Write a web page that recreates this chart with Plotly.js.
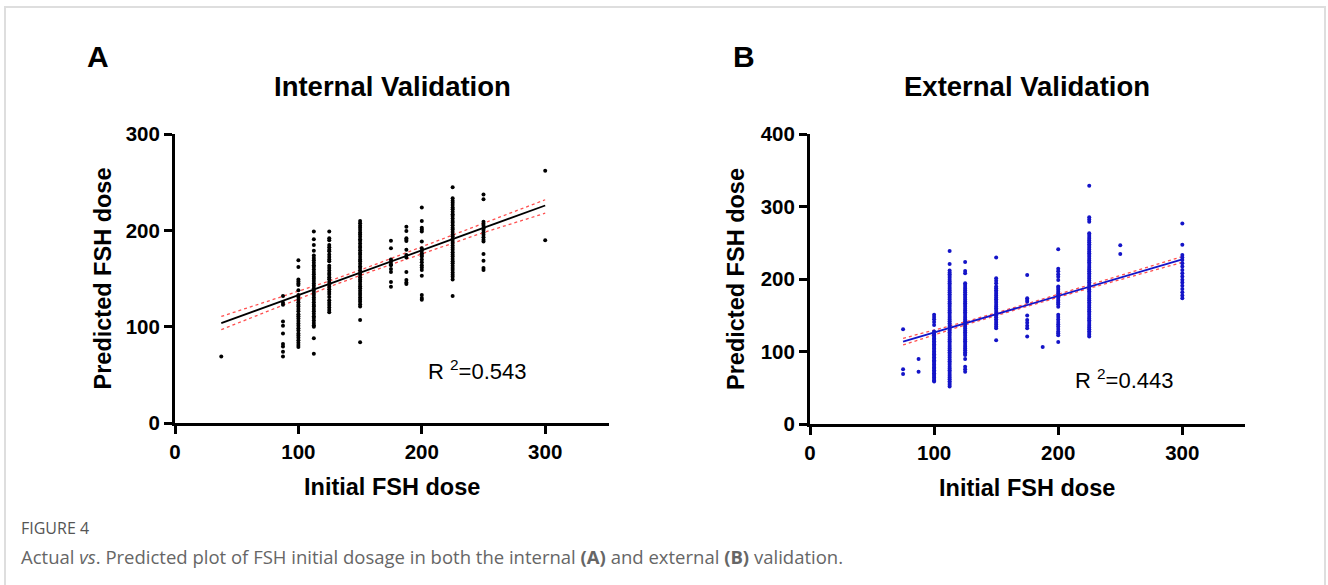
<!DOCTYPE html>
<html>
<head>
<meta charset="utf-8">
<script src="https://cdn.plot.ly/plotly-3.0.1.min.js"></script>
<style>
  html, body { margin: 0; padding: 0; background: #ffffff; }
  #frame { position: absolute; left: 4px; top: 6px; width: 1322px; height: 640px; border: 2px solid #dedede; box-sizing: border-box; }
  #chart { position: absolute; left: 0; top: 0; width: 1328px; height: 585px; }
</style>
</head>
<body>
<div id="frame"></div>
<div id="chart"></div>
<script>
// ---------- Panel A: internal validation ----------
const internalDoses = [37.5, 87.5, 100, 112.5, 125, 150, 175, 187.5, 200, 225, 250, 300];
const internalPredicted = [
  [69],
  [132, 125, 123, 105.5, 101, 93, 82, 79.5, 74, 69],
  [169, 162, 149, 147, 145, 143.5, 138, 133, 131, 128, 125.5, 123, 121, 118.5, 116, 113, 111, 108.5, 106, 103.5, 101, 98.5, 96, 93, 91, 88.5, 86, 83.5, 81, 79],
  [199, 191, 185, 179, 174, 171.5, 169, 166.5, 164, 162, 159.5, 157, 154.5, 152, 150, 147.5, 145, 142.5, 140, 137.5, 135, 133, 130.5, 128, 125.5, 123, 121, 118.5, 116, 113.5, 111, 109, 106.5, 104, 101.5, 100, 88, 72],
  [199, 192, 190, 185, 182.5, 180, 178.5, 175, 172.5, 170, 168, 163.5, 161, 158.5, 156, 154, 151.5, 149.5, 146.5, 144, 141.5, 139, 136.5, 134, 131, 127.5, 125, 122.5, 120, 117.5, 115],
  [210, 207.5, 205, 203, 200.5, 198, 196, 193.5, 191, 189, 186.5, 184, 182, 179.5, 177, 175, 172.5, 170, 168, 165.5, 163, 161, 158.5, 156, 154, 151.5, 149, 147, 144.5, 142, 140, 137.5, 135, 133, 130.5, 128, 126, 123.5, 121, 107, 84],
  [189.5, 181.5, 170, 167.5, 165, 164, 160, 157, 146.5, 141.5],
  [204, 199.5, 192, 190.5, 189, 180, 174.5, 172, 157, 148.5, 146, 144.5],
  [224, 210, 203, 201, 199, 188.5, 181.5, 179, 176.5, 174.5, 173, 170, 167, 164, 161.5, 159, 153, 133, 130, 128],
  [245, 233.5, 231, 229, 226.5, 224, 222, 219.5, 217, 215, 212.5, 210, 208, 205.5, 203, 201, 198.5, 196, 194, 191.5, 189, 187, 184.5, 182, 180, 177.5, 175, 173, 170.5, 168, 166, 163.5, 161, 159, 156.5, 154, 152, 149, 132],
  [237.5, 232.5, 209, 207, 205, 202.5, 200.5, 198, 195.5, 193, 190.5, 188.5, 175.5, 168.5, 161, 159],
  [262, 190]
];
const internalFitX = [37.5, 300];
const internalFitY = [103.8, 226.0];
const internalCiX = [37.5, 87.5, 125, 160, 200, 250, 300];
const internalCiUpper = [110.7, 131.5, 147.5, 163.6, 182.8, 207.5, 232.0];
const internalCiLower = [97.0, 122.5, 141.5, 158.0, 176.0, 197.9, 218.0];
const internalR2 = "0.543";

// ---------- Panel B: external validation ----------
const externalDoses = [75, 87.5, 100, 112.5, 125, 150, 175, 187.5, 200, 225, 250, 300];
const externalPredicted = [
  [131, 76, 69.5],
  [90, 72.5],
  [151, 148, 145, 141, 137, 128, 126, 124, 122, 120.5, 118.5, 116.5, 114.5, 112.5, 110.5, 108.5, 106.5, 104.5, 102.5, 100.5, 98.5, 96.5, 94.5, 92.5, 90.5, 88.5, 86.5, 84.5, 82.5, 80.5, 78.5, 76.5, 74.5, 72.5, 70.5, 68.5, 66.5, 64.5, 62.5, 60.5, 59],
  [239, 221, 212, 209.5, 207, 204.5, 202, 199.5, 197, 194.5, 192, 189.5, 187, 184.5, 182, 179.5, 177, 174.5, 172, 169.5, 167, 164.5, 162, 159.5, 157, 154.5, 152, 149.5, 147, 144.5, 142, 139.5, 137, 134.5, 132, 129.5, 127, 124.5, 122, 119.5, 117, 114.5, 112, 109.5, 107, 104.5, 102, 99.5, 97, 94.5, 92, 89.5, 87, 84.5, 82, 79.5, 77, 74.5, 72, 69.5, 67, 64.5, 62, 59.5, 57, 54.5, 52],
  [224, 211.5, 208.5, 194.5, 192, 189.5, 187, 184.5, 182, 179.5, 177, 174.5, 172, 169.5, 167, 164.5, 162, 159.5, 157, 154.5, 152, 149.5, 147, 144.5, 142, 139.5, 137, 134.5, 132, 129.5, 127, 124.5, 122, 119.5, 117, 114.5, 112, 109.5, 107, 104.5, 102, 99.5, 97, 95.5, 90, 79.5, 76, 72.5],
  [230, 201.5, 198, 194.5, 190, 187.5, 185, 182.5, 180, 177.5, 175, 172.5, 170, 167.5, 165, 162.5, 160, 157.5, 155, 152.5, 150, 147.5, 145, 142.5, 140, 137.5, 135, 132.5, 116],
  [206, 174, 171.5, 169, 150, 144, 140, 136, 132.5, 121],
  [106.5],
  [241.5, 214.5, 211, 207, 203.5, 199, 190, 188, 185.5, 183, 180.5, 178, 175.5, 173, 170.5, 168, 165.5, 162, 151, 148, 144.5, 141, 138, 135, 131.5, 128, 125.5, 123, 113.5],
  [329, 285.5, 282.5, 279.5, 263.5, 261, 258.5, 256, 253.5, 251, 248.5, 246, 243.5, 241, 238.5, 236, 233.5, 231, 228.5, 226, 223.5, 221, 218.5, 216, 213.5, 211, 208.5, 206, 203.5, 201, 198.5, 196, 193.5, 191, 188.5, 186, 183.5, 181, 178.5, 176, 173.5, 171, 168.5, 166, 163.5, 161, 158.5, 156, 153.5, 151, 148.5, 146, 143.5, 141, 138.5, 136, 133.5, 131, 128.5, 126, 123.5, 121],
  [247, 235],
  [277, 247.5, 233.5, 230, 226.5, 222, 217.5, 213, 208.5, 204, 199.5, 195.5, 191, 186.5, 182, 177.5, 174]
];
const externalFitX = [75, 300];
const externalFitY = [114.0, 227.6];
const externalCiX = [75, 125, 175, 225, 300];
const externalCiUpper = [118.6, 141.3, 166.3, 192.0, 231.3];
const externalCiLower = [109.4, 137.1, 162.7, 187.6, 223.4];
const externalR2 = "0.443";

// ---------- build ----------
function flatten(doses, preds) {
  const xs = [], ys = [];
  doses.forEach((d, i) => preds[i].forEach(v => { xs.push(d); ys.push(v); }));
  return { xs, ys };
}
const A = flatten(internalDoses, internalPredicted);
const B = flatten(externalDoses, externalPredicted);

const FONT = 'Liberation Sans, Arial, Helvetica, sans-serif';
const blue = '#1414c8';
const ciRed = '#ff5050';

const traces = [
  { x: internalCiX, y: internalCiUpper, mode: 'lines', line: { color: ciRed, width: 1.3, dash: 'dot' }, xaxis: 'x', yaxis: 'y', hoverinfo: 'skip' },
  { x: internalCiX, y: internalCiLower, mode: 'lines', line: { color: ciRed, width: 1.3, dash: 'dot' }, xaxis: 'x', yaxis: 'y', hoverinfo: 'skip' },
  { x: A.xs, y: A.ys, mode: 'markers', marker: { color: '#000000', size: 4 }, xaxis: 'x', yaxis: 'y' },
  { x: internalFitX, y: internalFitY, mode: 'lines', line: { color: '#000000', width: 1.8 }, xaxis: 'x', yaxis: 'y' },

  { x: externalCiX, y: externalCiUpper, mode: 'lines', line: { color: ciRed, width: 1.3, dash: 'dot' }, xaxis: 'x2', yaxis: 'y2', hoverinfo: 'skip' },
  { x: externalCiX, y: externalCiLower, mode: 'lines', line: { color: ciRed, width: 1.3, dash: 'dot' }, xaxis: 'x2', yaxis: 'y2', hoverinfo: 'skip' },
  { x: B.xs, y: B.ys, mode: 'markers', marker: { color: blue, size: 4 }, xaxis: 'x2', yaxis: 'y2' },
  { x: externalFitX, y: externalFitY, mode: 'lines', line: { color: blue, width: 1.8 }, xaxis: 'x2', yaxis: 'y2' }
];

const W = 1328, H = 585;
const px = v => v / W;
const py = v => 1 - v / H;

function axisStyle(extra) {
  return Object.assign({
    showgrid: false, zeroline: false, showline: true, linewidth: 3, linecolor: '#000',
    ticks: 'outside', ticklen: 8, tickwidth: 3, tickcolor: '#000',
    tick0: 0, dtick: 100, fixedrange: true,
    tickfont: { family: FONT, size: 20.5, color: '#000', weight: 'bold' }
  }, extra);
}

const titleFont = { family: FONT, size: 27.5, color: '#000', weight: 'bold' };
const axTitleFont = { family: FONT, size: 23.5, color: '#000', weight: 'bold' };
const letterFont = { family: FONT, size: 30, color: '#000', weight: 'bold' };
const r2Font = { family: FONT, size: 22, color: '#000' };

const ann = (text, x, y, font, xa, ya, extra) => Object.assign({
  text, x: px(x), y: py(y), xref: 'paper', yref: 'paper', showarrow: false,
  xanchor: xa || 'center', yanchor: ya || 'middle', font
}, extra || {});

const layout = {
  width: W, height: H,
  margin: { l: 0, r: 0, t: 0, b: 0 },
  paper_bgcolor: 'rgba(0,0,0,0)', plot_bgcolor: 'rgba(0,0,0,0)',
  showlegend: false,
  xaxis: axisStyle({ domain: [px(175), px(609)], range: [0, 351.7], anchor: 'y' }),
  yaxis: axisStyle({ domain: [py(423), py(134.3)], range: [0, 300], anchor: 'x' }),
  xaxis2: axisStyle({ domain: [px(810), px(1245)], range: [0, 350.5], anchor: 'y2' }),
  yaxis2: axisStyle({ domain: [py(424.3), py(134.3)], range: [0, 400], anchor: 'x2' }),
  annotations: [
    ann('A', 85, 57, letterFont, 'left'),
    ann('B', 731, 57, letterFont, 'left'),
    ann('Internal Validation', 392, 86, titleFont),
    ann('External Validation', 1027, 86, titleFont),
    ann('Initial FSH dose', 392, 487, axTitleFont),
    ann('Initial FSH dose', 1027, 488, axTitleFont),
    ann('Predicted FSH dose', 102, 278.5, axTitleFont, 'center', 'middle', { textangle: -90 }),
    ann('Predicted FSH dose', 736, 279, axTitleFont, 'center', 'middle', { textangle: -90 }),
    ann('R <sup>2</sup>=' + internalR2, 426, 370, r2Font, 'left'),
    ann('R <sup>2</sup>=' + externalR2, 1073, 379, r2Font, 'left'),
    ann('FIGURE 4', 19, 528, { family: 'Open Sans, sans-serif', size: 16, color: '#555' }, 'left'),
    ann('Actual <i>vs</i>. Predicted plot of FSH initial dosage in both the internal <b>(A)</b> and external <b>(B)</b> validation.',
        19, 556, { family: 'Open Sans, sans-serif', size: 18.5, color: '#666' }, 'left')
  ]
};

Plotly.newPlot('chart', traces, layout, { staticPlot: true, displayModeBar: false });
</script>
</body>
</html>
